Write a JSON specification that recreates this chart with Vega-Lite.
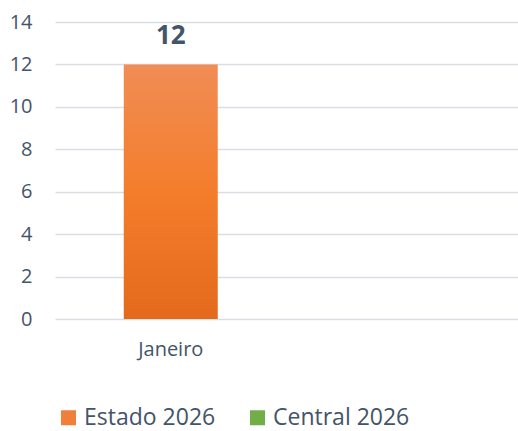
{
  "$schema": "https://vega.github.io/schema/vega-lite/v6.json",
  "autosize": {"type": "none"},
  "width": 463,
  "height": 297,
  "padding": {"left": 55, "top": 22, "right": 0, "bottom": 112},
  "background": "white",
  "config": {
    "font": "Open Sans",
    "view": {"stroke": null},
    "axis": {"labelColor": "#44546A", "labelFont": "Open Sans", "domain": false, "ticks": false, "title": null},
    "legend": {"labelFont": "Open Sans"}
  },
  "data": {
    "values": [
      {"mes": "Janeiro", "serie": "Estado 2026", "valor": 12},
      {"mes": " ", "serie": "Central 2026", "valor": null}
    ]
  },
  "encoding": {
    "x": {
      "field": "mes", "type": "nominal", "sort": null,
      "scale": {"domain": ["Janeiro", " "], "paddingInner": 0, "paddingOuter": 0},
      "axis": {"labelAngle": 0, "labelFontSize": 20, "labelPadding": 20, "grid": false}
    },
    "y": {
      "field": "valor", "type": "quantitative",
      "scale": {"domain": [0, 14], "nice": false},
      "axis": {"values": [0, 2, 4, 6, 8, 10, 12, 14], "labelFontSize": 20, "labelPadding": 23, "grid": true, "gridColor": "#D9DDE4", "gridWidth": 1.5}
    }
  },
  "layer": [
    {
      "mark": {
        "type": "bar",
        "width": {"band": 0.406},
        "fill": {
          "gradient": "linear", "x1": 0, "y1": 0, "x2": 0, "y2": 1,
          "stops": [
            {"offset": 0, "color": "#F08D55"},
            {"offset": 0.5, "color": "#F47D2C"},
            {"offset": 1, "color": "#E36A1C"}
          ]
        }
      }
    },
    {
      "mark": {"type": "text", "fontSize": 26, "fontWeight": "bold", "color": "#44546A", "baseline": "alphabetic", "dy": -20},
      "encoding": {"text": {"field": "valor", "type": "quantitative"}}
    },
    {
      "mark": {"type": "square", "opacity": 0, "size": 225},
      "encoding": {
        "color": {
          "field": "serie", "type": "nominal",
          "scale": {"domain": ["Estado 2026", "Central 2026"], "range": ["#F07F3A", "#72AE48"]},
          "legend": {
            "title": null, "orient": "none", "direction": "horizontal",
            "legendX": 2, "legendY": 384,
            "symbolType": "square", "symbolSize": 225, "symbolOpacity": 1, "symbolStrokeWidth": 0,
            "labelFontSize": 23, "labelColor": "#44546A", "labelOffset": 4, "columnPadding": 30
          }
        }
      }
    }
  ]
}
